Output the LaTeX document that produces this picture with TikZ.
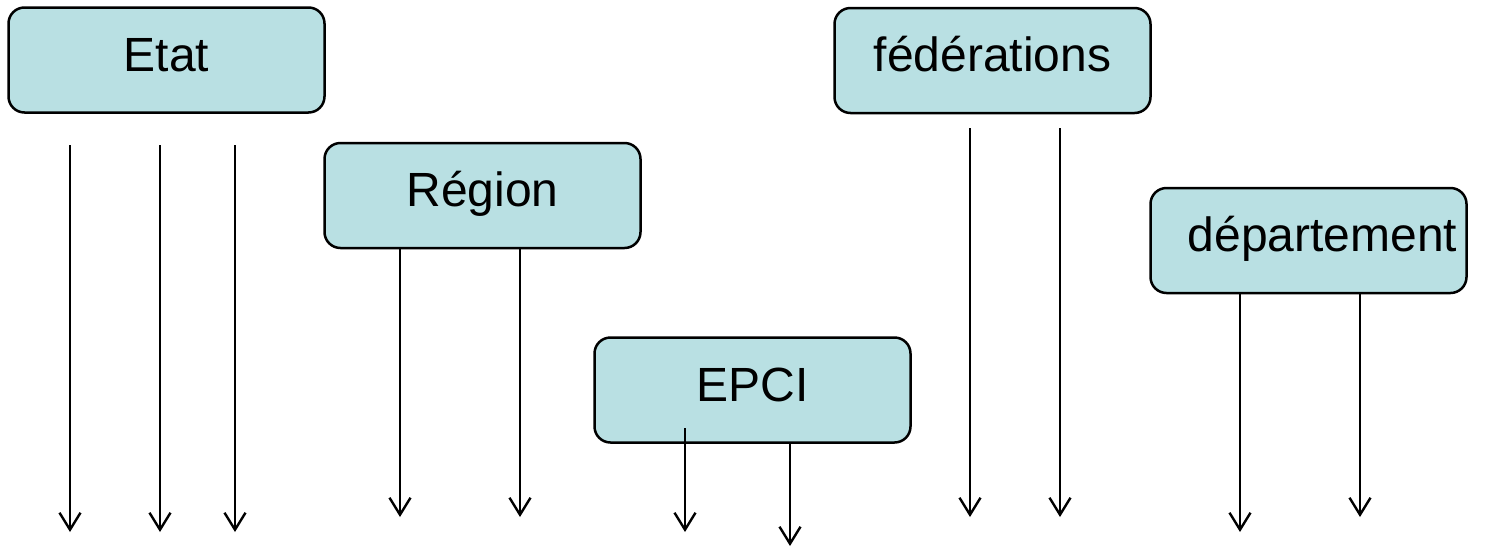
\documentclass[tikz,border=0pt]{standalone}
\usepackage{fontspec}
\setmainfont{Liberation Sans}
\usetikzlibrary{arrows.meta,calc}
\definecolor{boxfill}{RGB}{185,224,227}
\tikzset{
  orgbox/.style={draw=black, line width=2.5pt, fill=boxfill, rounded corners=16pt,
    minimum width=316pt, minimum height=105pt, inner sep=0pt,
    text height=36pt, text depth=14pt,
    font=\fontsize{48}{57}\selectfont},
  arr/.style={line width=2.3pt, -{Straight Barb[length=17pt, width=21pt, line width=2.4pt]}}
}
\begin{document}
\begin{tikzpicture}[x=1pt,y=-1pt]
\useasboundingbox (0,0) rectangle (1496,547);
\node[orgbox] (etat) at (166.5,60) {Etat};
\node[orgbox] (reg) at (482.5,195.5) {Région};
\node[orgbox] (epci) at (752.5,390) {EPCI};
\node[orgbox] (fed) at (992.5,60.5) {fédérations};
\node[orgbox] (dep) at (1308.5,240.5) {\hspace*{28pt}département};
% coordinates
\coordinate (e1s) at (70,145);  \coordinate (e1e) at (70,532);
\coordinate (e2s) at (160,145); \coordinate (e2e) at (160,532);
\coordinate (e3s) at (235,145); \coordinate (e3e) at (235,532);
\coordinate (r1e) at (400,517); \coordinate (r2e) at (520,517);
\coordinate (p1s) at (685,428); \coordinate (p1e) at (685,532);
\coordinate (p2e) at (790,546);
\coordinate (f1s) at (970,128); \coordinate (f1e) at (970,517);
\coordinate (f2s) at (1060,128); \coordinate (f2e) at (1060,517);
\coordinate (d1e) at (1240,532); \coordinate (d2e) at (1360,517);
% arrows
\draw[arr] (e1s) -- (e1e);
\draw[arr] (e2s) -- (e2e);
\draw[arr] (e3s) -- (e3e);
\draw[arr] (reg.south -| r1e) -- (r1e);
\draw[arr] (reg.south -| r2e) -- (r2e);
\draw[arr] (p1s) -- (p1e);
\draw[arr] (epci.south -| p2e) -- (p2e);
\draw[arr] (f1s) -- (f1e);
\draw[arr] (f2s) -- (f2e);
\draw[arr] (dep.south -| d1e) -- (d1e);
\draw[arr] (dep.south -| d2e) -- (d2e);
\end{tikzpicture}
\end{document}
